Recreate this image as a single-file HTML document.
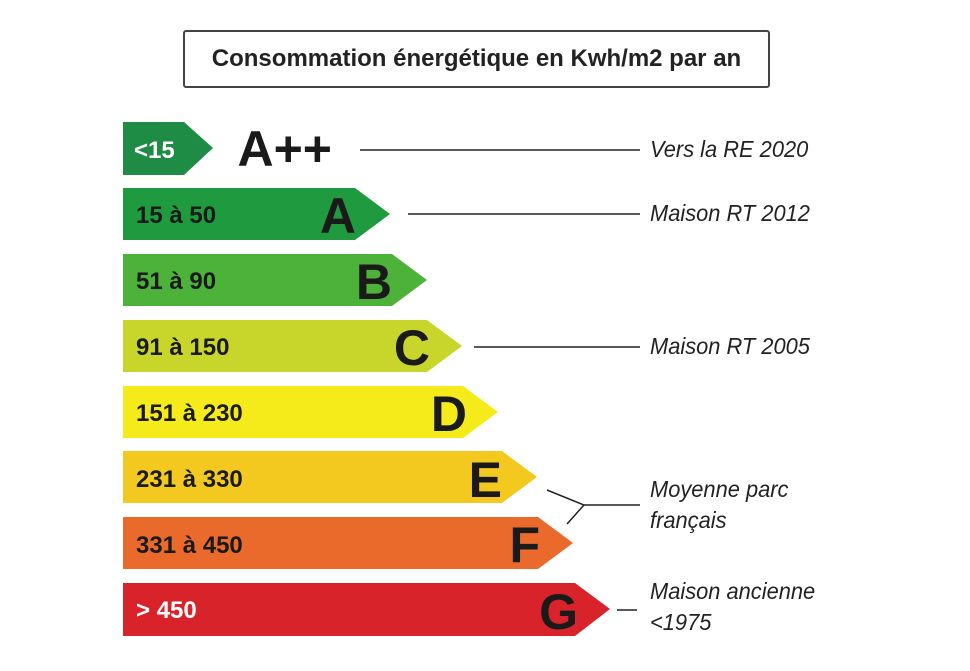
<!DOCTYPE html>
<html><head><style>
body{margin:0;width:970px;height:671px;background:#fff;overflow:hidden;position:relative;font-family:"Liberation Sans",sans-serif}
.t{position:absolute;left:183px;top:30px;width:587px;height:58px;border:2px solid #444;border-radius:3px;box-sizing:border-box;font:bold 24px "Liberation Sans",sans-serif;color:#222;text-align:center;line-height:54px}
.r{position:absolute;font:italic 23px "Liberation Sans",sans-serif;color:#222;line-height:31px;transform:scaleX(.95);transform-origin:left}
</style></head><body>
<div class="t">Consommation énergétique en Kwh/m2 par an</div>
<svg width="970" height="671" style="position:absolute;left:0;top:0" font-family="Liberation Sans, sans-serif">
<g stroke="#222" stroke-width="1.5" fill="none">
<line x1="360" y1="150" x2="640" y2="150"/>
<line x1="408" y1="214" x2="640" y2="214"/>
<line x1="474" y1="347" x2="640" y2="347"/>
<polyline points="547,490 584,505 567,524"/>
<line x1="584" y1="505" x2="640" y2="505"/>
<line x1="617" y1="610" x2="637" y2="610"/>
</g>
<polygon points="123,122 184,122 213,148 184,175 123,175" fill="#1e8c45"/>
<polygon points="123,188 355,188 390,214 355,240 123,240" fill="#1f9a3e"/>
<polygon points="123,254 392,254 427,280 392,306 123,306" fill="#4db23a"/>
<polygon points="123,320 427,320 462,346 427,372 123,372" fill="#c8d62b"/>
<polygon points="123,386 463,386 498,412 463,438 123,438" fill="#f5ea1a"/>
<polygon points="123,451 502,451 537,477 502,503 123,503" fill="#f3c91f"/>
<polygon points="123,517 538,517 573,543 538,569 123,569" fill="#ea6a2c"/>
<polygon points="123,583 575,583 610,609 575,636 123,636" fill="#d9232b"/>
<g font-weight="bold" font-size="24">
<text x="134" y="158" fill="#fff">&lt;15</text>
<text x="136" y="223" fill="#1a1a1a">15 à 50</text>
<text x="136" y="289" fill="#1a1a1a">51 à 90</text>
<text x="136" y="355" fill="#1a1a1a">91 à 150</text>
<text x="136" y="421" fill="#1a1a1a">151 à 230</text>
<text x="136" y="487" fill="#1a1a1a">231 à 330</text>
<text x="136" y="553" fill="#1a1a1a">331 à 450</text>
<text x="136" y="618" fill="#fff">&gt; 450</text>
</g>
<g font-weight="bold" font-size="50" fill="#1a1a1a" text-anchor="end">
<text x="332" y="166">A++</text>
<text x="356" y="233">A</text>
<text x="392" y="299">B</text>
<text x="430" y="365">C</text>
<text x="467" y="431">D</text>
<text x="502" y="497">E</text>
<text x="540" y="562">F</text>
<text x="578" y="629">G</text>
</g>
</svg>
<div class="r" style="left:650px;top:134px">Vers la RE 2020</div>
<div class="r" style="left:650px;top:198px">Maison RT 2012</div>
<div class="r" style="left:650px;top:331px">Maison RT 2005</div>
<div class="r" style="left:650px;top:474px">Moyenne parc<br>français</div>
<div class="r" style="left:650px;top:576px">Maison ancienne<br>&lt;1975</div>
</body></html>
